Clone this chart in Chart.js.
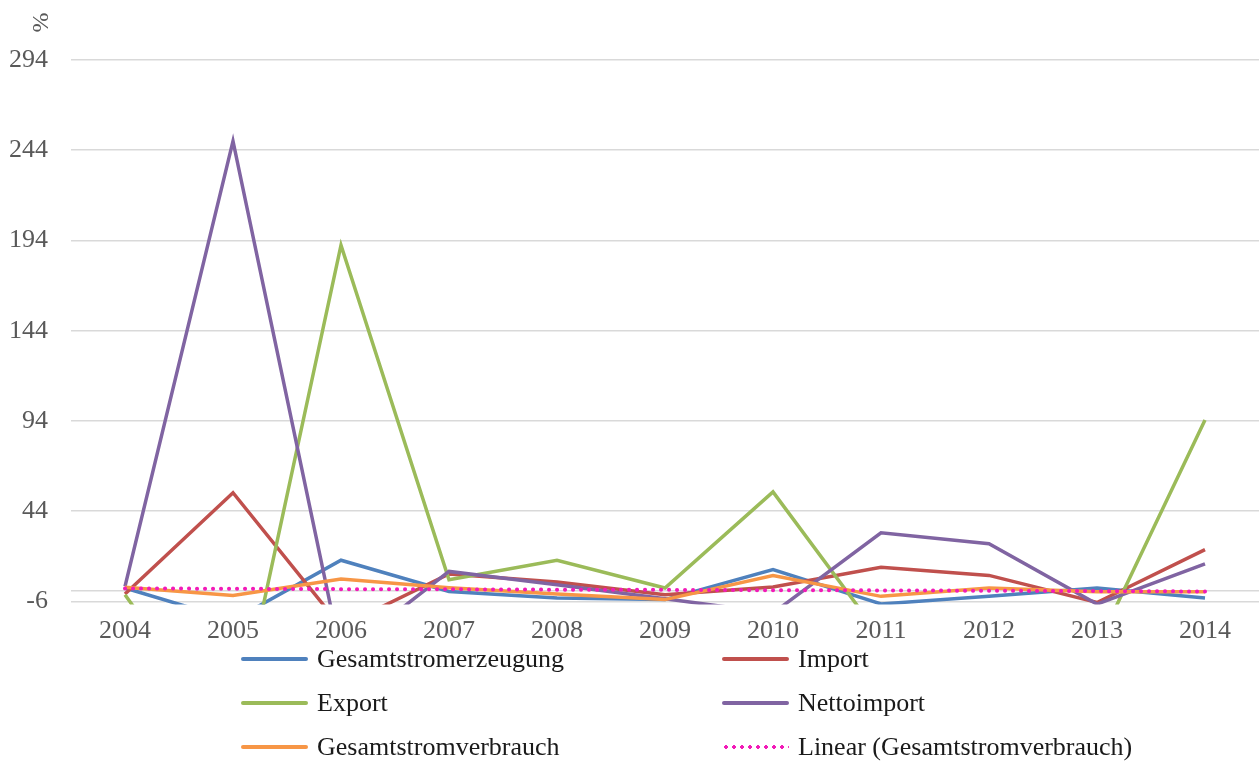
<!DOCTYPE html>
<html>
<head>
<meta charset="utf-8">
<script src="https://cdn.jsdelivr.net/npm/chart.js@4.4.1/dist/chart.umd.min.js"></script>
<style>
  body { margin: 0; background: #fff; font-family: "Liberation Serif", "Times New Roman", serif; }
  #wrap { position: relative; width: 1260px; height: 763px; }
  #box { position: absolute; left: 0; top: 0; width: 1260px; height: 640px; }
  #unit { position: absolute; left: 30px; top: 9px; font-size: 24px; color: #595959; transform: rotate(-90deg); }
  #legend { position: absolute; left: 0; top: 0; width: 1260px; height: 763px; pointer-events: none; }
  .item { position: absolute; display: flex; align-items: center; font-size: 26px; color: #1a1a1a; height: 30px; }
  .item .swatch { width: 67px; height: 4px; margin-right: 9px; border-radius: 2px; }
</style>
</head>
<body>
<div id="wrap">
  <div id="box"><canvas id="graph"></canvas></div>
  <div id="unit">%</div>
  <div id="legend"></div>
</div>
<script>
const years = ["2004", "2005", "2006", "2007", "2008", "2009", "2010", "2011", "2012", "2013", "2014"];
const erzeugung = [1.4, -16.5, 16.8, -0.5, -4.1, -5, 11.6, -7.4, -3.2, 1.4, -4.1];
const importe = [-1.9, 54.2, -20, 9.2, 4.8, -2.3, 2.0, 12.9, 8.4, -6.6, 22.7];
const exporte = [-2.3, -86, 191.4, 6.0, 16.8, 1.4, 54.7, -26, -30, -31, 94.5];
const nettoimport = [2.3, 249, -36, 10.6, 3.2, -4.5, -12.5, 32, 26, -7.5, 14.8];
const verbrauch = [1.8, -2.7, 6.4, 1.6, -1.9, -5, 8.3, -3.2, 1.4, -0.6, -0.6];
const trendVerbrauch = [1.2, 1.0, 0.8, 0.7, 0.5, 0.4, 0.2, 0.1, -0.1, -0.3, -0.5];
const yTicks = [-6, 44, 94, 144, 194, 244, 294];

const clip = { left: 2, right: 2, top: 2, bottom: 3 };

function serie(label, data, color, order, col, row) {
    return {
        label: label, data: data, borderColor: color, backgroundColor: color,
        borderWidth: 3.5, pointRadius: 0, tension: 0, clip: clip, order: order,
        col: col, row: row
    };
}

const datasets = [
    serie("Gesamtstromerzeugung", erzeugung, "#4F81BD", 5, 0, 0),
    serie("Import", importe, "#C0504D", 4, 1, 0),
    serie("Export", exporte, "#9BBB59", 3, 0, 1),
    serie("Nettoimport", nettoimport, "#8064A2", 2, 1, 1),
    serie("Gesamtstromverbrauch", verbrauch, "#F79646", 1, 0, 2),
    serie("Linear (Gesamtstromverbrauch)", trendVerbrauch, "#F21BB8", 0, 1, 2)
];
// trend line: round dots
datasets[5].borderDash = [0.1, 7.9];
datasets[5].borderCapStyle = "round";
datasets[5].borderWidth = 4;

const graph = document.getElementById("graph");
ctx = graph.getContext('2d');

let myChart = new Chart(ctx, {
    type: "line",
    data: { labels: years, datasets: datasets },
    options: {
        responsive: true,
        maintainAspectRatio: false,
        animation: false,
        layout: { padding: { left: 0, right: 1, top: 60, bottom: 0 } },
        plugins: { legend: { display: false }, tooltip: { enabled: false } },
        scales: {
            x: {
                offset: true,
                grid: { display: false },
                border: { display: false },
                ticks: { color: "#595959", padding: 6, maxRotation: 0,
                         font: { family: "Liberation Serif", size: 26 } },
                afterFit: (s) => { s.height = 38; }
            },
            y: {
                min: -6, max: 294,
                grid: { color: "#D9D9D9", lineWidth: 1.5, drawTicks: false },
                border: { display: false },
                afterBuildTicks: (s) => {
                    s.ticks = yTicks.concat([0]).sort((a, b) => a - b).map(v => ({ value: v }));
                },
                ticks: {
                    color: "#595959", padding: 23,
                    font: { family: "Liberation Serif", size: 26 },
                    callback: (v) => (v === 0 ? "" : String(v))
                },
                afterFit: (s) => { s.width = 71; }
            }
        }
    }
});

// legend as html, two columns
const legend = document.getElementById("legend");
const colX = [241, 722];
const rowY = [659, 703, 747];
datasets.forEach(d => {
    const it = document.createElement("div");
    it.className = "item";
    it.style.left = colX[d.col] + "px";
    it.style.top = (rowY[d.row] - 15) + "px";
    const sw = document.createElement("span");
    sw.className = "swatch";
    if (d.borderDash) {
        sw.style.background = "radial-gradient(circle, " + d.borderColor + " 1.6px, transparent 2px) 0 0 / 8px 4px repeat-x";
    } else {
        sw.style.background = d.borderColor;
    }
    const tx = document.createElement("span");
    tx.textContent = d.label;
    it.appendChild(sw);
    it.appendChild(tx);
    legend.appendChild(it);
});
</script>
</body>
</html>
